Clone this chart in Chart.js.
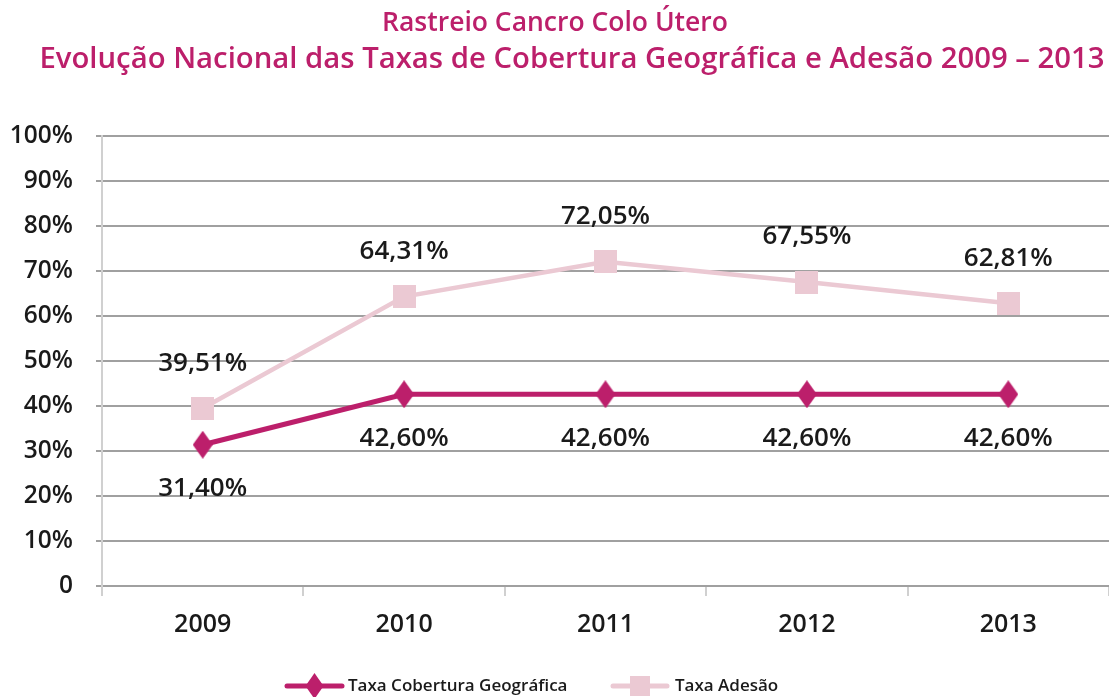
<!DOCTYPE html>
<html>
<head>
<meta charset="utf-8">
<script src="https://cdn.jsdelivr.net/npm/chart.js@4/dist/chart.umd.min.js"></script>
<style>
html,body{margin:0;padding:0;background:#fff;}
#wrap{width:1109px;height:697px;position:relative;}
</style>
</head>
<body>
<div id="wrap"><canvas id="c" width="1109" height="697"></canvas></div>
<script>
const titleLine1 = "Rastreio Cancro Colo Útero";
const titleLine2 = "Evolução Nacional das Taxas de Cobertura Geográfica e Adesão 2009 – 2013";
const years = ["2009", "2010", "2011", "2012", "2013"];
const coberturaValues = [31.40, 42.60, 42.60, 42.60, 42.60];
const adesaoValues = [39.51, 64.31, 72.05, 67.55, 62.81];
const seriesNames = ["Taxa Cobertura Geográfica", "Taxa Adesão"];
const yTickLabels = ["0", "10%", "20%", "30%", "40%", "50%", "60%", "70%", "80%", "90%", "100%"];

const MAGENTA = '#bc1f6b';
const PINK = '#ebc9d3';
const FONT = "'Open Sans', 'Noto Sans', sans-serif";
const TEXT = '#1a1a1a';

function diamondImg(w, h) {
  const c = document.createElement('canvas');
  c.width = w; c.height = h;
  const x = c.getContext('2d');
  x.fillStyle = MAGENTA;
  x.beginPath();
  x.moveTo(w/2, 0); x.lineTo(w, h/2); x.lineTo(w/2, h); x.lineTo(0, h/2); x.closePath();
  x.fill();
  return c;
}
function squareImg(s) {
  const c = document.createElement('canvas');
  c.width = s; c.height = s;
  const x = c.getContext('2d');
  x.fillStyle = PINK;
  x.fillRect(0, 0, s, s);
  return c;
}

const titlePlugin = {
  id: 'twoLineTitle',
  afterDraw(chart) {
    const ctx = chart.ctx;
    ctx.save();
    ctx.fillStyle = MAGENTA;
    ctx.textAlign = 'center';
    ctx.textBaseline = 'middle';
    ctx.font = "600 26.5px " + FONT;
    ctx.fillText(titleLine1, 555, 23);
    ctx.font = "600 29.3px " + FONT;
    ctx.fillText(titleLine2, 572, 60);
    ctx.restore();
  }
};

const legendPlugin = {
  id: 'lineLegend',
  afterDraw(chart) {
    const ctx = chart.ctx;
    const y = 686;
    const entries = [
      { x0: 287, x1: 342, col: MAGENTA, kind: 0, tx: 348 },
      { x0: 613, x1: 667, col: PINK, kind: 1, tx: 675 }
    ];
    ctx.save();
    entries.forEach((e, i) => {
      ctx.strokeStyle = e.col; ctx.lineWidth = 5; ctx.lineCap = 'round';
      ctx.beginPath(); ctx.moveTo(e.x0, y); ctx.lineTo(e.x1, y); ctx.stroke();
      ctx.fillStyle = e.col;
      const cx = (e.x0 + e.x1) / 2;
      if (e.kind === 0) {
        ctx.beginPath(); ctx.moveTo(cx, y - 13); ctx.lineTo(cx + 9, y); ctx.lineTo(cx, y + 13); ctx.lineTo(cx - 9, y); ctx.closePath(); ctx.fill();
      } else {
        ctx.fillRect(cx - 10, y - 10, 20, 20);
      }
      ctx.fillStyle = TEXT;
      ctx.font = "600 17px " + FONT;
      ctx.textAlign = 'left';
      ctx.textBaseline = 'middle';
      ctx.fillText(chart.data.datasets[i].label, e.tx, y);
    });
    ctx.restore();
  }
};

const dataLabelPlugin = {
  id: 'dataLabels',
  afterDatasetsDraw(chart) {
    const ctx = chart.ctx;
    ctx.save();
    ctx.font = "600 26px " + FONT;
    ctx.fillStyle = TEXT;
    ctx.textAlign = 'center';
    ctx.textBaseline = 'middle';
    chart.data.datasets.forEach((ds, di) => {
      const meta = chart.getDatasetMeta(di);
      meta.data.forEach((pt, i) => {
        const v = ds.data[i];
        const txt = v.toFixed(2).replace('.', ',') + '%';
        const off = di === 0 ? 44 : -45;
        ctx.fillText(txt, pt.x, pt.y + off);
      });
    });
    ctx.restore();
  }
};

new Chart(document.getElementById('c'), {
  type: 'line',
  data: {
    labels: years,
    datasets: [
      {
        label: seriesNames[0],
        data: coberturaValues,
        borderColor: MAGENTA,
        backgroundColor: MAGENTA,
        borderWidth: 5,
        pointStyle: diamondImg(20, 28),
        tension: 0
      },
      {
        label: seriesNames[1],
        data: adesaoValues,
        borderColor: PINK,
        backgroundColor: PINK,
        borderWidth: 4.5,
        pointStyle: squareImg(23),
        tension: 0
      }
    ]
  },
  options: {
    responsive: false,
    animation: false,
    devicePixelRatio: 1,
    layout: { autoPadding: false, padding: { left: 0, right: 0, top: 136, bottom: 33 } },
    plugins: {
      title: { display: false },
      legend: { display: false },
      tooltip: { enabled: false }
    },
    scales: {
      x: {
        offset: true,
        grid: { display: true, drawOnChartArea: false, drawTicks: true, tickLength: 10, color: '#d0d0d0', lineWidth: 2, offset: true },
        border: { display: false },
        ticks: { color: TEXT, font: { family: FONT, size: 25, weight: '600' }, padding: 14 },
        afterFit(s) { s.height = 78; s.paddingLeft = 0; s.paddingRight = 0; }
      },
      y: {
        min: 0, max: 100,
        ticks: {
          stepSize: 10,
          color: TEXT,
          font: { family: FONT, size: 24.5, weight: '600' },
          padding: 23,
          callback(v) { return yTickLabels[Math.round(v / 10)]; }
        },
        grid: { color: '#a0a0a0', lineWidth: 2, tickLength: 6 },
        border: { color: '#d0d0d0', width: 2 },
        afterFit(s) { s.width = 102; }
      }
    }
  },
  plugins: [dataLabelPlugin, titlePlugin, legendPlugin]
});
</script>
</body>
</html>
